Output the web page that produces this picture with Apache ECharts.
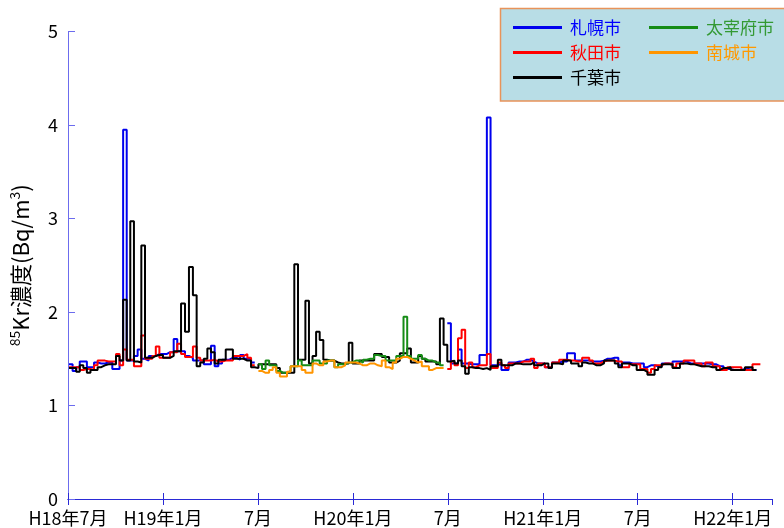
<!DOCTYPE html>
<html>
<head>
<meta charset="utf-8">
<script src="https://cdn.jsdelivr.net/npm/echarts@6/dist/echarts.min.js"></script>
<style>
  html, body { margin: 0; padding: 0; background: #ffffff; }
  #chart { width: 784px; height: 528px; }
</style>
</head>
<body>
<div id="chart"></div>
<script>
// Weekly 85Kr concentration (Bq/m3); each list starts on the Monday given by its *Start constant.
const sapporoStartA = '2006-07-03';
const sapporoA = [
  1.44,1.37,1.41,1.47,1.47,1.41,1.41,1.46,1.45,1.45,
  1.46,1.46,1.39,1.39,1.48,3.95,1.48,1.48,1.53,1.60,
  1.50,1.48,1.53,1.53,1.55,1.55,1.55,1.57,1.57,1.71,
  1.58,1.58,1.53,1.51,1.48,1.48,1.48,1.44,1.44,1.64,
  1.42,1.45,1.49,1.49,1.51,1.51,1.49,1.54,1.50,1.50,
  1.46
];
const sapporoStartB = '2008-06-30';
const sapporoB = [
  1.88,1.45,1.45,1.60,1.45,1.45,1.44,1.44,1.44,1.54,
  1.54,4.08,1.43,1.43,1.45,1.38,1.38,1.46,1.46,1.47,
  1.47,1.49,1.49,1.47,1.45,1.45,1.45,1.41,1.41,1.46,
  1.46,1.47,1.47,1.56,1.56,1.48,1.48,1.48,1.48,1.47,
  1.47,1.47,1.48,1.50,1.50,1.51,1.51,1.43,1.46,1.46,
  1.45,1.45,1.45,1.45,1.41,1.43,1.43,1.42,1.42,1.45,
  1.45,1.43,1.47,1.47,1.47,1.47,1.45,1.45,1.45,1.45,
  1.45,1.45,1.44,1.44,1.42,1.42,1.39,1.39,1.38,1.38,
  1.38,1.39,1.39,1.38,1.38
];

const akitaStartA = '2006-07-03';
const akitaA = [
  1.41,1.41,1.41,1.38,1.39,1.39,1.38,1.43,1.48,1.48,
  1.47,1.47,1.47,1.55,1.43,1.60,1.49,1.49,1.42,1.42,
  1.75,1.50,1.50,1.53,1.63,1.51,1.51,1.51,1.57,1.57,
  1.66,1.55,1.52,1.52,1.63,1.51,1.48,1.48,1.48,1.49,
  1.47,1.47,1.48,1.48,1.48,1.53,1.53,1.53,1.55,1.51,
  1.43
];
const akitaStartB = '2008-06-30';
const akitaB = [
  1.39,1.47,1.43,1.72,1.81,1.40,1.46,1.41,1.43,1.43,
  1.43,1.55,1.40,1.40,1.46,1.43,1.40,1.45,1.45,1.45,
  1.47,1.47,1.47,1.50,1.40,1.45,1.45,1.41,1.41,1.46,
  1.46,1.49,1.49,1.48,1.48,1.47,1.47,1.51,1.51,1.48,
  1.45,1.45,1.47,1.48,1.48,1.48,1.47,1.47,1.41,1.41,
  1.44,1.44,1.44,1.39,1.39,1.35,1.39,1.43,1.43,1.45,
  1.45,1.45,1.41,1.45,1.45,1.48,1.48,1.48,1.45,1.45,
  1.42,1.46,1.46,1.42,1.42,1.38,1.38,1.41,1.41,1.41,
  1.41,1.38,1.38,1.38,1.44,1.44
];

const chibaStart = '2006-07-03';
const chiba = [
  1.40,1.40,1.36,1.43,1.40,1.35,1.38,1.38,1.41,1.43,
  1.44,1.44,1.44,1.53,1.48,2.13,1.48,2.97,1.47,1.46,
  2.71,1.51,1.51,1.53,1.54,1.54,1.51,1.51,1.53,1.58,
  1.58,2.09,1.79,2.48,2.18,1.42,1.46,1.50,1.61,1.57,
  1.45,1.49,1.49,1.60,1.60,1.50,1.50,1.50,1.48,1.48,
  1.41,1.40,1.44,1.44,1.44,1.44,1.44,1.40,1.35,1.35,
  1.35,1.35,2.51,1.49,1.49,2.12,1.45,1.53,1.79,1.70,
  1.49,1.48,1.48,1.46,1.45,1.45,1.45,1.67,1.45,1.45,
  1.48,1.48,1.48,1.48,1.55,1.55,1.52,1.52,1.46,1.46,
  1.48,1.56,1.56,1.61,1.46,1.46,1.53,1.50,1.47,1.47,
  1.47,1.44,1.93,1.65,1.47,1.48,1.45,1.48,1.42,1.34,
  1.41,1.40,1.40,1.39,1.40,1.38,1.42,1.42,1.49,1.43,
  1.43,1.43,1.45,1.45,1.44,1.44,1.44,1.46,1.43,1.43,
  1.45,1.45,1.40,1.45,1.45,1.44,1.48,1.48,1.45,1.45,
  1.42,1.46,1.45,1.45,1.43,1.43,1.45,1.48,1.48,1.48,
  1.45,1.41,1.45,1.45,1.43,1.43,1.38,1.38,1.36,1.33,
  1.33,1.38,1.41,1.44,1.44,1.44,1.40,1.40,1.45,1.45,
  1.44,1.44,1.43,1.42,1.42,1.42,1.41,1.41,1.38,1.40,
  1.40,1.41,1.38,1.38,1.38,1.38,1.41,1.41,1.38
];

const dazaifuStart = '2007-07-02';
const dazaifu = [
  1.44,1.39,1.48,1.43,1.43,1.37,1.35,1.35,1.37,1.42,
  1.42,1.48,1.43,1.43,1.43,1.48,1.48,1.45,1.45,1.48,
  1.48,1.41,1.44,1.44,1.46,1.46,1.48,1.48,1.46,1.49,
  1.50,1.50,1.54,1.53,1.53,1.48,1.48,1.48,1.53,1.53,
  1.95,1.53,1.50,1.50,1.54,1.50,1.48,1.48,1.46,1.46,
  1.43
];

const nanjoStart = '2007-07-02';
const nanjo = [
  1.37,1.35,1.35,1.38,1.41,1.35,1.31,1.31,1.36,1.42,
  1.42,1.42,1.38,1.35,1.35,1.45,1.43,1.43,1.47,1.48,
  1.48,1.41,1.41,1.43,1.46,1.46,1.46,1.45,1.43,1.43,
  1.45,1.45,1.43,1.42,1.48,1.41,1.39,1.46,1.50,1.52,
  1.52,1.50,1.48,1.46,1.47,1.42,1.42,1.38,1.40,1.40,
  1.40
];

// x axis: months counted from H18年7月 (July 2006), one tick every six months
const axisStart = '2006-07-01';
const axisEnd = '2010-03-16';
const xTickLabels = ['H18年7月', 'H19年1月', '7月', 'H20年1月', '7月', 'H21年1月', '7月', 'H22年1月'];
const yTicks = [0, 1, 2, 3, 4, 5];

const seriesNames = ['札幌市', '秋田市', '千葉市', '太宰府市', '南城市'];
const lineColors = ['#0000ee', '#ff0000', '#000000', '#168c16', '#ff9500'];
const legendTextColors = ['#0000ff', '#ff0000', '#000000', '#339933', '#ff9900'];

// measuring periods of each station: [series index, start Monday, weekly values]
const periods = [
  [0, sapporoStartA, sapporoA],
  [0, sapporoStartB, sapporoB],
  [1, akitaStartA, akitaA],
  [1, akitaStartB, akitaB],
  [2, chibaStart, chiba],
  [3, dazaifuStart, dazaifu],
  [4, nanjoStart, nanjo]
];

const DAY = 86400000;
const FONT = '"Noto Sans CJK JP", "Noto Sans", sans-serif';

function monthPos(ms) {
  const d = new Date(ms);
  const y = d.getUTCFullYear(), m = d.getUTCMonth();
  const dim = new Date(Date.UTC(y, m + 1, 0)).getUTCDate();
  return (y - 2006) * 12 + (m - 6) + (d.getUTCDate() - 1) / dim;
}
function parseDay(s) { return Date.parse(s + 'T00:00:00Z'); }

// one step per week; a closing point carries the last week to its end
function weekly(start, values) {
  const t0 = parseDay(start);
  const pts = values.map((v, i) => [monthPos(t0 + i * 7 * DAY), v]);
  pts.push([monthPos(t0 + values.length * 7 * DAY), values[values.length - 1]]);
  return pts;
}

const xMin = monthPos(parseDay(axisStart));
const xMax = monthPos(parseDay(axisEnd));

function xLabel(v) {
  const k = Math.round(v / 6);
  return Math.abs(v - k * 6) < 1e-6 ? (xTickLabels[k] || '') : '';
}

const frameColor = '#2a2ad6';
const sideColor = '#6c6cee';

const chart = echarts.init(document.getElementById('chart'), null, { renderer: 'canvas' });

function legendItems(names) {
  return names.map(n => {
    const i = seriesNames.indexOf(n);
    return { name: n, textStyle: { color: legendTextColors[i] } };
  });
}
const legendCommon = {
  orient: 'vertical',
  top: 19,
  padding: 0,
  itemWidth: 49,
  itemHeight: 3,
  itemGap: 8,
  icon: 'rect',
  selectedMode: false,
  z: 12,
  textStyle: { fontSize: 17, fontFamily: FONT, padding: [0, 0, 0, 3] }
};

chart.setOption({
  animation: false,
  backgroundColor: '#ffffff',
  grid: { left: 68, right: 12, top: 31.5, bottom: 29, outerBoundsMode: 'none' },
  xAxis: [
    {
      type: 'value', position: 'bottom', min: xMin, max: xMax, interval: 6,
      axisLine: { show: true, lineStyle: { color: frameColor, width: 1 } },
      axisTick: { show: true, inside: true, length: 6, lineStyle: { color: frameColor } },
      axisLabel: { formatter: xLabel, showMaxLabel: false, margin: 10, color: '#000', fontSize: 18, fontFamily: FONT },
      splitLine: { show: false }
    },
    {
      type: 'value', position: 'top', min: xMin, max: xMax, interval: 6,
      axisLine: { show: true, lineStyle: { color: frameColor, width: 1 } },
      axisTick: { show: true, inside: true, length: 6, lineStyle: { color: frameColor } },
      axisLabel: { show: false },
      splitLine: { show: false }
    }
  ],
  yAxis: [
    {
      type: 'value', position: 'left', min: yTicks[0], max: yTicks[yTicks.length - 1], interval: 1,
      axisLine: { show: true, lineStyle: { color: sideColor, width: 1 } },
      axisTick: { show: true, inside: true, length: 7, lineStyle: { color: sideColor } },
      axisLabel: { margin: 10, color: '#000', fontSize: 18, fontFamily: FONT },
      splitLine: { show: false },
      name: '{s|85}{t|Kr濃度(Bq/m}{s|3}{t|)}',
      nameLocation: 'middle',
      nameGap: 34,
      nameRotate: 90,
      nameTextStyle: {
        color: '#000',
        rich: {
          t: { fontSize: 22, fontFamily: FONT, color: '#000', lineHeight: 26 },
          s: { fontSize: 14, fontFamily: FONT, color: '#000', lineHeight: 14, verticalAlign: 'top' }
        }
      }
    },
    {
      type: 'value', position: 'right', min: yTicks[0], max: yTicks[yTicks.length - 1], interval: 1,
      axisLine: { show: true, lineStyle: { color: sideColor, width: 1 } },
      axisTick: { show: false },
      axisLabel: { show: false },
      splitLine: { show: false }
    }
  ],
  legend: [
    Object.assign({ left: 513, data: legendItems(['札幌市', '秋田市', '千葉市']) }, legendCommon),
    Object.assign({ left: 649, data: legendItems(['太宰府市', '南城市']) }, legendCommon)
  ],
  graphic: [
    {
      type: 'rect', z: 11,
      shape: { x: 500.5, y: 8.5, width: 300, height: 92.5 },
      style: { fill: '#b8dde6', stroke: '#e8935a', lineWidth: 1.5 }
    }
  ],
  series: periods.map(([k, start, values]) => ({
    name: seriesNames[k],
    type: 'line',
    step: 'end',
    data: weekly(start, values),
    showSymbol: false,
    symbol: 'none',
    color: lineColors[k],
    lineStyle: { color: lineColors[k], width: 2 },
    z: 2 + k,
    silent: true
  }))
});
</script>
</body>
</html>
